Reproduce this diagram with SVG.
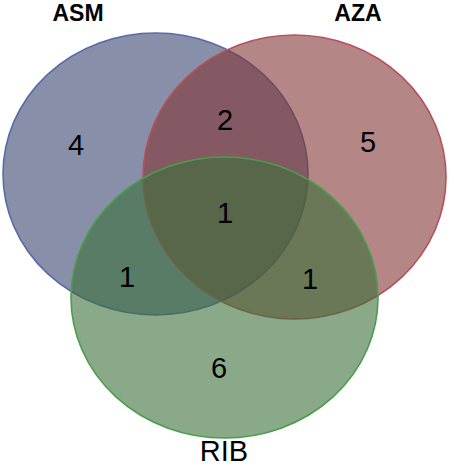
<svg xmlns="http://www.w3.org/2000/svg" width="454" height="468" viewBox="0 0 454 468">
<style>
.set{fill-opacity:0.6;stroke-width:1.6}
.num{font-family:"Liberation Sans",Arial,sans-serif;font-size:29px;fill:#000;text-anchor:middle}
.title{font-family:"Liberation Sans",Arial,sans-serif;font-size:23px;font-weight:bold;fill:#000;text-anchor:middle}
</style>
<rect width="454" height="468" fill="#fff"/>
<g id="ASM">
<ellipse class="set" cx="155.5" cy="174" rx="152.5" ry="141" fill="#39466f" stroke="#5a6aa8"/>
<text class="title" x="78" y="21">ASM</text>
</g>
<g id="AZA">
<ellipse class="set" cx="294.5" cy="177" rx="151.5" ry="142" fill="#823535" stroke="#b8505a"/>
<text class="title" x="358" y="21">AZA</text>
</g>
<g id="RIB">
<ellipse class="set" cx="224.5" cy="297.5" rx="153.5" ry="140.5" fill="#3a703a" stroke="#4a9e4a"/>
<text class="num" x="224" y="461" font-size="28">RIB</text>
</g>
<g id="counts">
<text class="num" x="76" y="155">4</text>
<text class="num" x="225" y="130">2</text>
<text class="num" x="368" y="152">5</text>
<text class="num" x="225" y="223">1</text>
<text class="num" x="127" y="287">1</text>
<text class="num" x="310" y="289">1</text>
<text class="num" x="219" y="378">6</text>
</g>
<g id="connectors"></g>
</svg>
